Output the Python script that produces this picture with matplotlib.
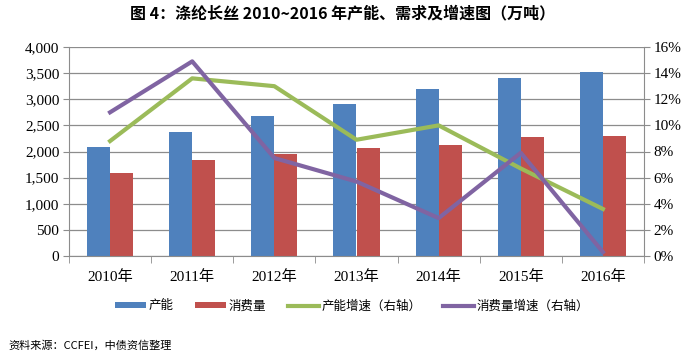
import numpy as np
import matplotlib
matplotlib.use("Agg")
import matplotlib.pyplot as plt
from matplotlib.ticker import FuncFormatter, FixedLocator

plt.rcParams['font.family'] = ['Liberation Serif', 'Noto Sans CJK SC', 'DejaVu Sans']

years = ['2010年', '2011年', '2012年', '2013年', '2014年', '2015年', '2016年']
capacity = [2085, 2365, 2670, 2900, 3200, 3410, 3530]
consumption = [1590, 1830, 1955, 2060, 2125, 2285, 2295]
cap_growth = [8.8, 13.6, 13.0, 8.9, 10.0, 6.7, 3.6]
cons_growth = [11.0, 14.9, 7.5, 5.7, 2.9, 7.9, 0.3]

c_blue = '#4F81BD'
c_red = '#C0504D'
c_green = '#9BBB59'
c_purple = '#8064A2'

W, H = 685, 354
fig = plt.figure(figsize=(W / 100, H / 100), dpi=100)
ax = fig.add_axes([69 / W, 1 - 256 / H, (644 - 69) / W, (256 - 47) / H])

x = np.arange(len(years))
bw = 0.28
ax.bar(x - bw / 2, capacity, bw, color=c_blue, label='产能', zorder=2)
ax.bar(x + bw / 2, consumption, bw, color=c_red, label='消费量', zorder=2)
ax.set_ylim(0, 4000)
ax.set_xlim(-0.5, len(years) - 0.5)
ax.set_yticks(np.arange(0, 4001, 500))
ax.yaxis.set_major_formatter(FuncFormatter(lambda v, p: f'{int(v):,}'))
ax.grid(axis='y', color='#8c8c8c', lw=0.9, zorder=0)
ax.set_axisbelow(True)

ax.set_xticks(x)
ax.set_xticklabels(years)
ax.xaxis.set_minor_locator(FixedLocator(np.arange(-0.5, len(years), 1)))
ax.tick_params(axis='x', which='major', length=0, pad=10, labelsize=11)
ax.tick_params(axis='x', which='minor', length=5, color='#8c8c8c', direction='out')
ax.tick_params(axis='y', length=4, color='#8c8c8c', labelsize=11, pad=3)
for s in ['top', 'right']:
    ax.spines[s].set_visible(False)
ax.spines['left'].set_color('#8c8c8c')
ax.spines['bottom'].set_color('#8c8c8c')

ax2 = ax.twinx()
ax2.plot(x, cap_growth, color=c_green, lw=3, label='产能增速（右轴）', zorder=3)
ax2.plot(x, cons_growth, color=c_purple, lw=3, label='消费量增速（右轴）', zorder=3)
ax2.set_ylim(0, 16)
ax2.set_yticks(np.arange(0, 17, 2))
ax2.yaxis.set_major_formatter(FuncFormatter(lambda v, p: f'{int(v)}%'))
ax2.tick_params(axis='y', length=4, color='#8c8c8c', labelsize=11, pad=3)
for s in ['top', 'left', 'bottom']:
    ax2.spines[s].set_visible(False)
ax2.spines['right'].set_color('#8c8c8c')

h1, l1 = ax.get_legend_handles_labels()
h2, l2 = ax2.get_legend_handles_labels()
fig.legend(h1 + h2, l1 + l2, loc='center', bbox_to_anchor=(352 / W, 1 - 306 / H),
           ncol=4, frameon=False, handlelength=2.5, handleheight=0.4,
           columnspacing=1.7, handletextpad=0.2,
           prop={'family': ['Noto Sans CJK SC'], 'size': 9})

fig.text(0.5, 1 - 13 / H, '图 4：涤纶长丝 2010~2016 年产能、需求及增速图（万吨）',
         ha='center', va='center', fontsize=11.5, fontweight='bold',
         family=['Noto Sans CJK SC'])
fig.text(8 / W, 1 - 345 / H, '资料来源：CCFEI，中债资信整理', ha='left', va='center',
         fontsize=8, family=['Noto Sans CJK SC'])

fig.savefig('out.png', dpi=100)
